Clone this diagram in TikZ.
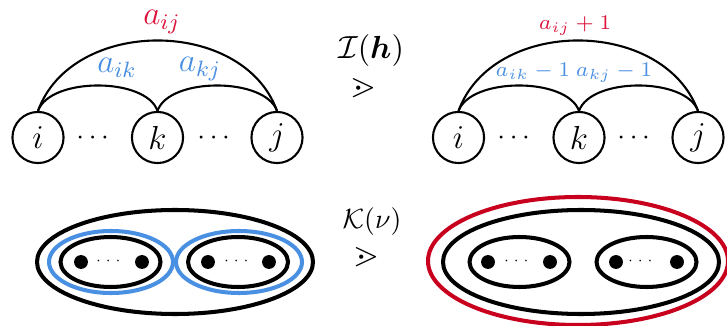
\RequirePackage{fix-cm}
\documentclass[tikz,border=0pt]{standalone}
\usepackage{amsmath,amssymb,bm}
\definecolor{myred}{RGB}{220,20,60}
\definecolor{darkred}{RGB}{200,0,30}
\definecolor{myblue}{RGB}{74,144,226}
\tikzset{
  vert/.style={circle,draw,line width=0.75pt,minimum size=18.4pt,inner sep=0pt,font=\large},
  arcline/.style={line width=0.75pt},
  thickell/.style={line width=1.45pt},
  bluell/.style={line width=1.45pt,draw=myblue},
  redell/.style={line width=1.45pt,draw=darkred},
  blob/.style={circle,fill,inner sep=0pt,minimum size=5pt},
  lab/.style={inner sep=0pt},
  smalllab/.style={inner sep=0pt,anchor=base,font=\fontsize{7.5}{9}\selectfont},
}
\begin{document}
\begin{tikzpicture}[x=0.36pt,y=-0.36pt]
\useasboundingbox (0,0) rectangle (727,326);
% ---------- top left ----------
\node[vert] (i1) at (38,137.5) {$i$};
\node[vert] (k1) at (157.5,137.5) {$k$};
\node[vert] (j1) at (277,137.5) {$j$};
\node (d1) at (95,138) {$\cdots$};
\node (d2) at (216,138) {$\cdots$};
\draw[arcline] (i1.north) .. controls (50,77) and (146,77) .. (k1.north);
\draw[arcline] (k1.north) .. controls (169,77) and (265,77) .. (j1.north);
\draw[arcline] (i1.north) .. controls (72,17) and (243,17) .. (j1.north);
\node[lab,anchor=base,text=myred,font=\large] (lij) at (162,25) {$a_{ij}$};
\node[lab,anchor=base,text=myblue,font=\large] (lik) at (117,73) {$a_{ik}$};
\node[lab,anchor=base,text=myblue,font=\large] (lkj) at (200,72) {$a_{kj}$};
% ---------- top right ----------
\node[vert] (i2) at (458.5,137.5) {$i$};
\node[vert] (k2) at (579,137.5) {$k$};
\node[vert] (j2) at (698,137.5) {$j$};
\node (d3) at (516,138) {$\cdots$};
\node (d4) at (636,138) {$\cdots$};
\draw[arcline] (i2.north) .. controls (471,77) and (567,77) .. (k2.north);
\draw[arcline] (k2.north) .. controls (591,77) and (686,77) .. (j2.north);
\draw[arcline] (i2.north) .. controls (493,17) and (663,17) .. (j2.north);
\node[smalllab,text=myred] (rij) at (575,30) {$a_{ij}+1$};
\node[smalllab,text=myblue] (rik) at (533,77) {$a_{ik}-1$};
\node[smalllab,text=myblue] (rkj) at (614,77) {$a_{kj}-1$};
% ---------- middle labels ----------
\node[lab,font=\fontsize{11.5}{13}\selectfont] (Ih) at (371,51) {$\mathcal{I}(\bm{h})$};
\node[lab,font=\large] (g1) at (363,88) {$\gtrdot$};
\node[lab] (Kn) at (372,222) {$\mathcal{K}(\nu)$};
\node[lab,font=\large] (g2) at (366,257) {$\gtrdot$};
% ---------- bottom left ----------
\draw[thickell] (175,262) ellipse [x radius=138, y radius=52];
\draw[bluell] (111,262) ellipse [x radius=62, y radius=31];
\draw[bluell] (239,262) ellipse [x radius=63, y radius=31];
\draw[thickell] (110.5,262) ellipse [x radius=50, y radius=25];
\draw[thickell] (238,262) ellipse [x radius=50, y radius=25];
\node[blob] (b1) at (81,262) {};
\node[blob] (b2) at (142,262) {};
\node[blob] (b3) at (208,262) {};
\node[blob] (b4) at (269,262) {};
\node[font=\tiny] (t1) at (110,261) {$\cdots$};
\node[font=\tiny] (t2) at (238,261) {$\cdots$};
% ---------- bottom right ----------
\draw[redell] (578,261) ellipse [x radius=150, y radius=64];
\draw[thickell] (581,262) ellipse [x radius=138, y radius=52];
\draw[thickell] (519.5,262) ellipse [x radius=50, y radius=25];
\draw[thickell] (646.5,262) ellipse [x radius=50, y radius=25];
\node[blob] (b5) at (488,262) {};
\node[blob] (b6) at (550,262) {};
\node[blob] (b7) at (616,262) {};
\node[blob] (b8) at (677,262) {};
\node[font=\tiny] (t3) at (518,261) {$\cdots$};
\node[font=\tiny] (t4) at (642,261) {$\cdots$};
\end{tikzpicture}
\end{document}
